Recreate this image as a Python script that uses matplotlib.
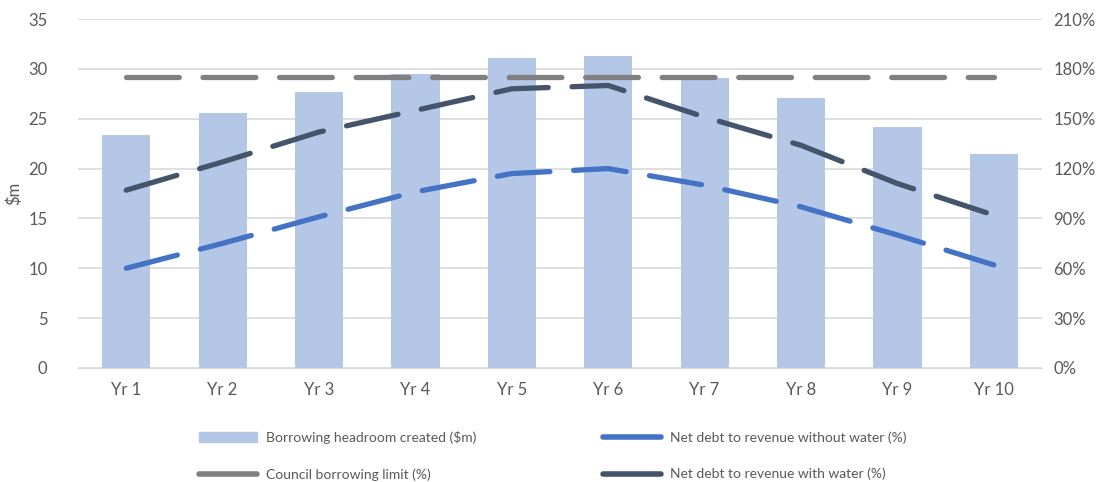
import matplotlib
matplotlib.use('Agg')
import matplotlib.pyplot as plt
from matplotlib.lines import Line2D
from matplotlib.patches import Patch

years = ['Yr 1', 'Yr 2', 'Yr 3', 'Yr 4', 'Yr 5', 'Yr 6', 'Yr 7', 'Yr 8', 'Yr 9', 'Yr 10']
headroom = [23.4, 25.6, 27.7, 29.5, 31.1, 31.3, 29.1, 27.1, 24.2, 21.5]
limit_pct = [175, 175, 175, 175, 175, 175, 175, 175, 175, 175]
without_water = [60, 75, 91, 106, 117, 120, 110, 97, 80, 62]
with_water = [107, 124, 142, 155, 168, 170, 151, 134, 111, 92]

BAR = '#b4c7e7'
GREY = '#808080'
BLUE = '#4472c4'
NAVY = '#44546a'
TXT = '#595959'
GRID = '#d9d9d9'

plt.rcParams['font.family'] = ['Lato', 'DejaVu Sans']

W, H = 1103, 482
fig = plt.figure(figsize=(W / 100, H / 100), dpi=100)
ax = fig.add_axes([78 / W, 1 - 368 / H, (1042 - 78) / W, (368 - 19) / H])
ax2 = ax.twinx()

x = range(len(years))
ax.bar(x, headroom, width=0.5, color=BAR, zorder=2)
ax.set_ylim(0, 35)
ax.set_xlim(-0.5, len(years) - 0.5)
ax.set_yticks(range(0, 36, 5))
ax.set_xticks(list(x))
ax.set_xticklabels(years)
ax.yaxis.grid(True, color=GRID, lw=1.2, zorder=0)
ax.set_axisbelow(True)
ax.set_ylabel('$m', color=TXT, fontsize=12, labelpad=4)

dash = dict(lw=3.8, dashes=(10, 4.5), dash_capstyle='round', solid_capstyle='round')
ax2.plot(x, limit_pct, color=GREY, **dash)
ax2.plot(x, without_water, color=BLUE, **dash)
ax2.plot(x, with_water, color=NAVY, **dash)
ax2.set_ylim(0, 210)
ax2.set_yticks(range(0, 211, 30))
ax2.set_yticklabels([f'{v}%' for v in range(0, 211, 30)])

for a in (ax, ax2):
    for s in a.spines.values():
        s.set_visible(False)
    a.tick_params(length=0, colors=TXT, labelsize=12)
ax.spines['bottom'].set_visible(True)
ax.spines['bottom'].set_color(GRID)
ax.tick_params(axis='x', pad=10)
ax.tick_params(axis='y', pad=22)
ax2.tick_params(axis='y', pad=8)

# legend: two columns placed by hand
leg_kw = dict(frameon=False, fontsize=10, labelcolor=TXT, handlelength=4.2,
              handletextpad=0.6, labelspacing=1.75, borderpad=0, borderaxespad=0,
              loc='upper left')
fig.legend([Patch(color=BAR), Line2D([], [], color=GREY, lw=4, solid_capstyle='round')],
           ['Borrowing headroom created ($m)', 'Council borrowing limit (%)'],
           bbox_to_anchor=(199 / W, 1 - 431 / H), **leg_kw)
fig.legend([Line2D([], [], color=BLUE, lw=4, solid_capstyle='round'),
            Line2D([], [], color=NAVY, lw=4, solid_capstyle='round')],
           ['Net debt to revenue without water (%)', 'Net debt to revenue with water (%)'],
           bbox_to_anchor=(603 / W, 1 - 431 / H), **leg_kw)

fig.savefig('out.png', dpi=100)
